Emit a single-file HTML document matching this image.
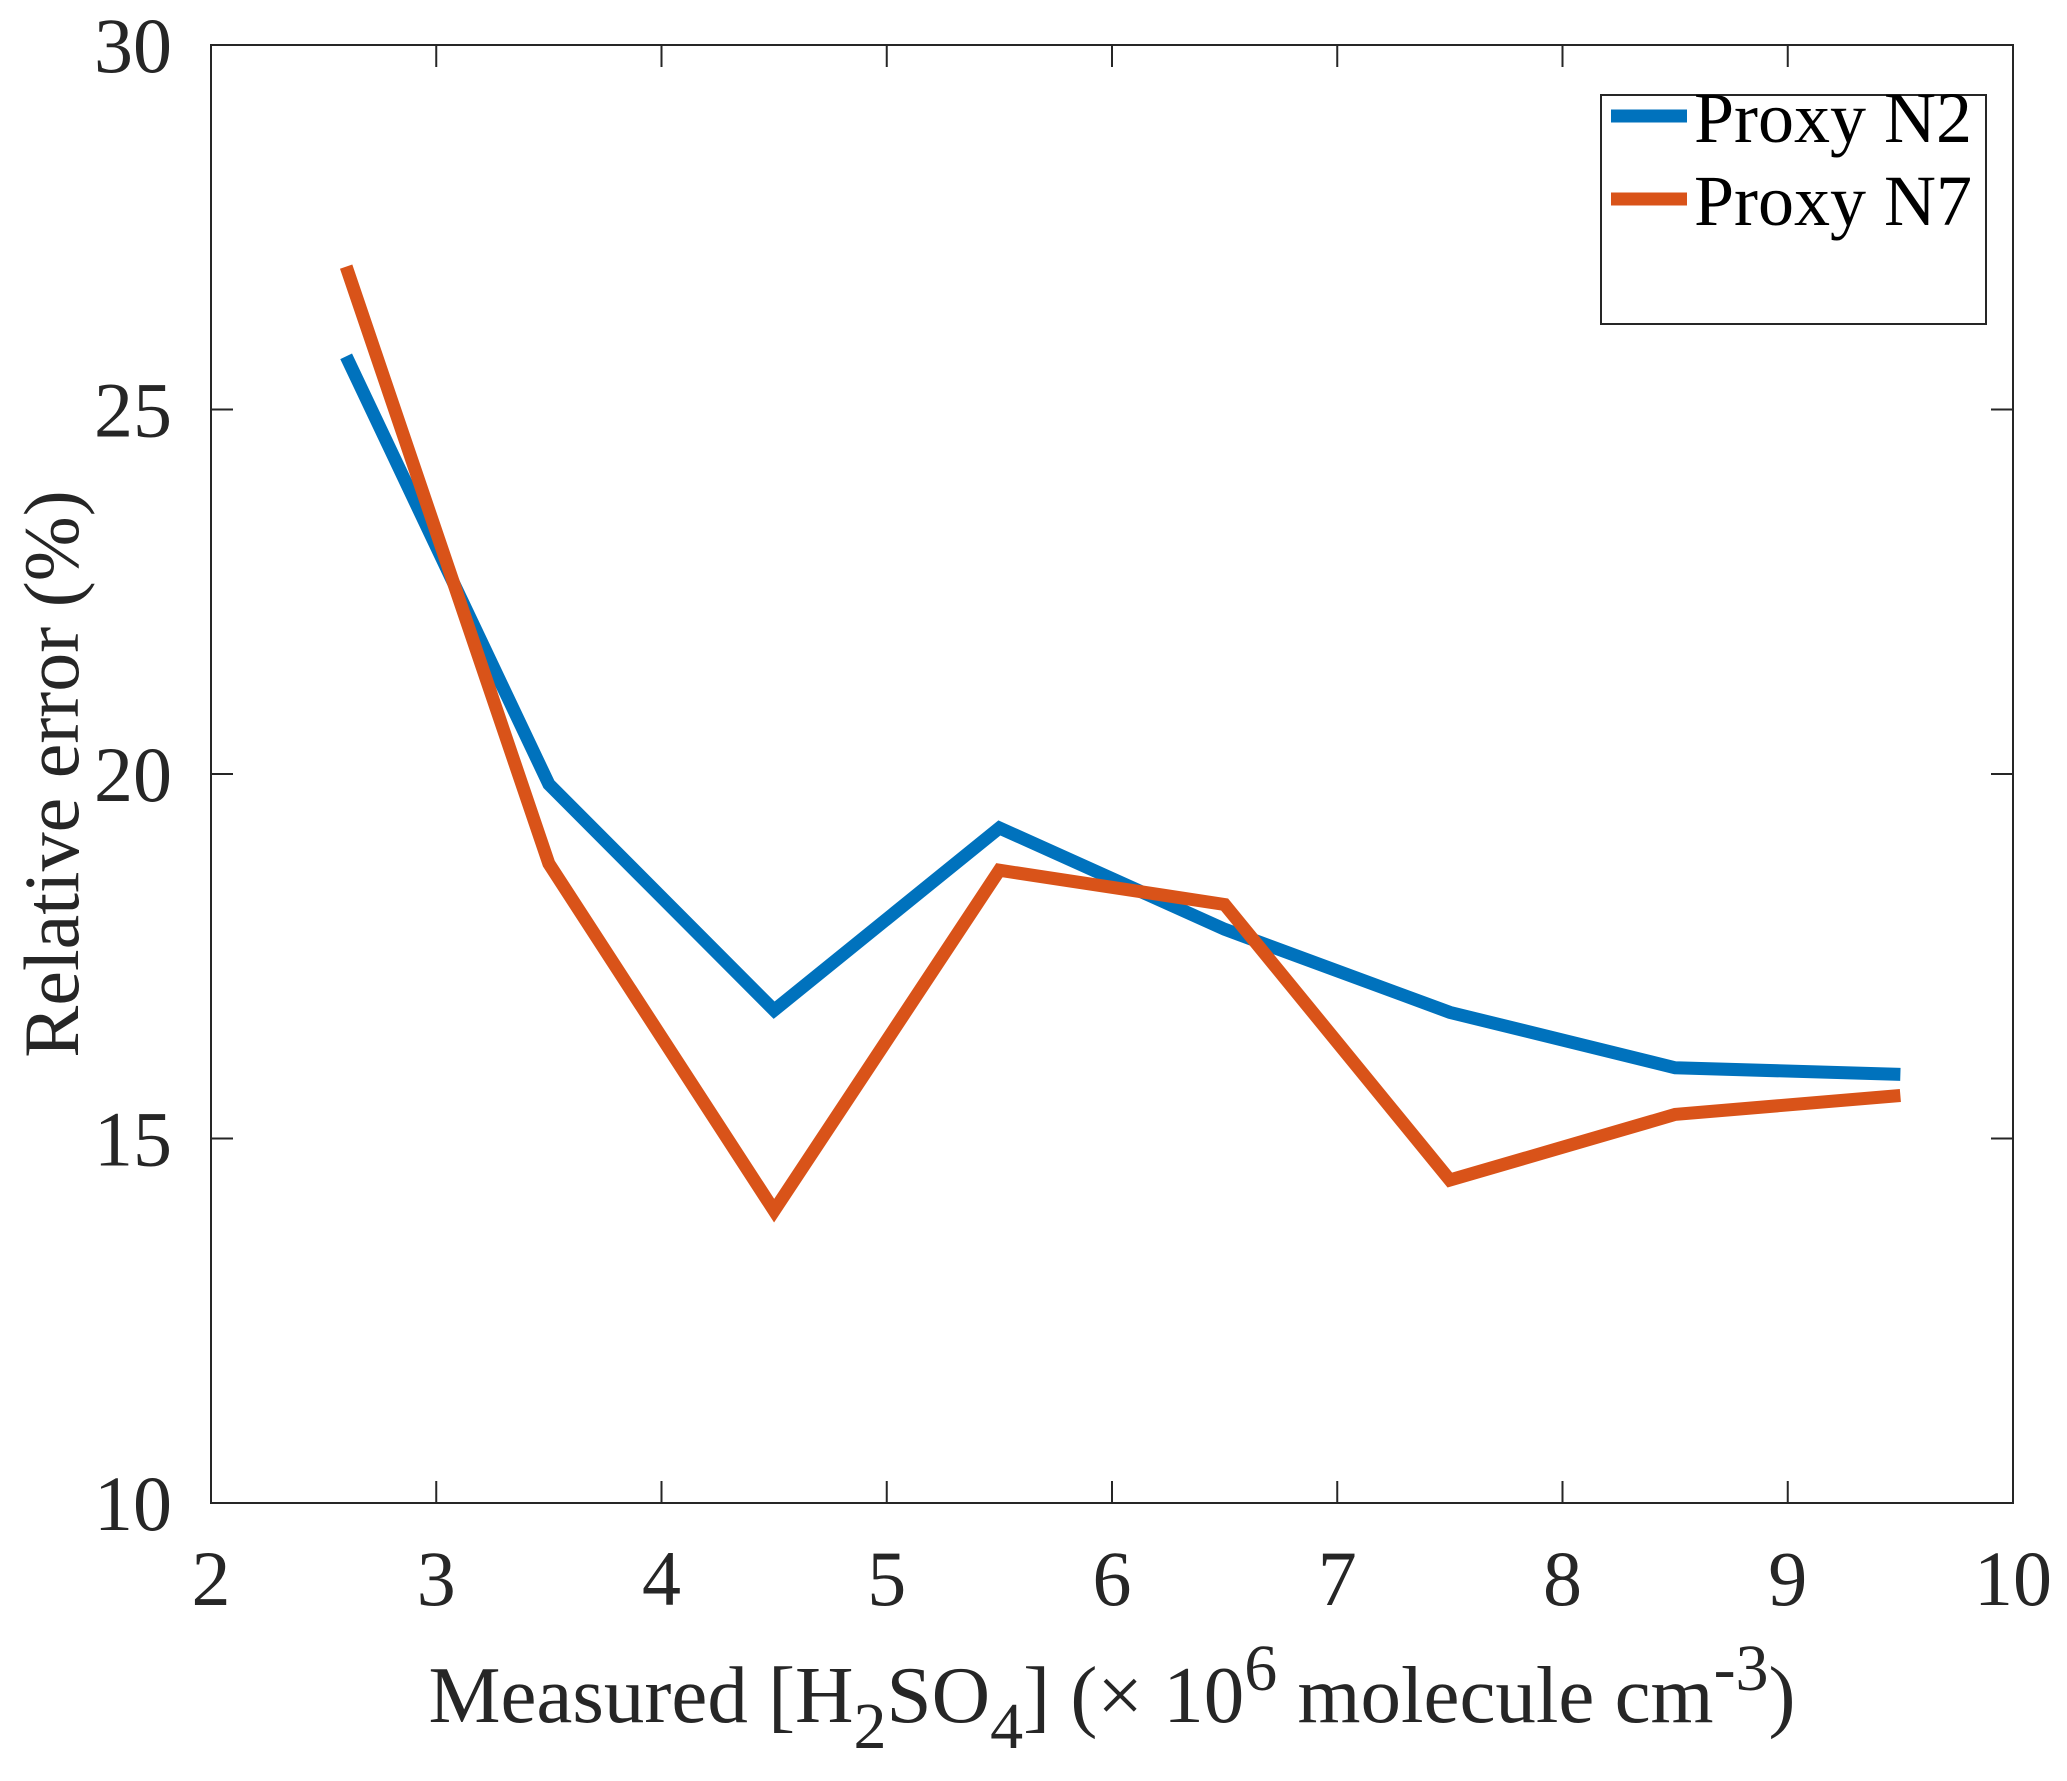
<!DOCTYPE html>
<html><head><meta charset="utf-8"><style>
body{margin:0;background:#fff}
svg{display:block;font-family:"Liberation Serif",serif}
</style></head><body>
<svg id="chart" width="2067" height="1781">
<g id="g"></g>
</svg>
<script>
const categories=[2.6,3.5,4.5,5.5,6.5,7.5,8.5,9.5];
const seriesN2=[25.73,19.86,16.76,19.26,17.87,16.73,15.97,15.88];
const seriesN7=[26.96,18.77,14.01,18.68,18.21,14.43,15.33,15.59];
const xTicks=[2,3,4,5,6,7,8,9,10];
const yTicks=[10,15,20,25,30];
const L=211,R=2013,T=45,B=1503;
const X=v=>L+(v-2)/8*(R-L);
const Y=v=>B-(v-10)/20*(B-T);
const g=document.getElementById('g');
const NS='http://www.w3.org/2000/svg';
function el(t,a,p){const e=document.createElementNS(NS,t);for(const k in a)e.setAttribute(k,a[k]);(p||g).appendChild(e);return e;}
let e=el('rect',{x:L,y:T,width:R-L,height:B-T,fill:'none',stroke:'#262626','stroke-width':2});


xTicks.forEach(v=>{
 el('line',{x1:X(v),x2:X(v),y1:B,y2:B-22,stroke:'#262626','stroke-width':2});
 el('line',{x1:X(v),x2:X(v),y1:T,y2:T+22,stroke:'#262626','stroke-width':2});
 const t=el('text',{x:X(v),y:1605,'text-anchor':'middle','font-size':78,fill:'#262626'});t.textContent=v;
 
 
});
yTicks.forEach(v=>{
 el('line',{x1:L,x2:L+22,y1:Y(v),y2:Y(v),stroke:'#262626','stroke-width':2});
 el('line',{x1:R,x2:R-22,y1:Y(v),y2:Y(v),stroke:'#262626','stroke-width':2});
 const t=el('text',{x:172,y:Y(v)+27,'text-anchor':'end','font-size':78,fill:'#262626'});t.textContent=v;
 
 
});
function line(vals,color,name){
 const p=el('polyline',{points:categories.map((c,i)=>X(c)+','+Y(vals[i])).join(' '),fill:'none',stroke:color,'stroke-width':13,'stroke-linejoin':'miter'});
 
 
}
line(seriesN2,'#0072BD','series-proxy-n2');
line(seriesN7,'#D95319','series-proxy-n7');
</script>
<svg width="2067" height="1781" style="position:absolute;left:0;top:0;font-family:'Liberation Serif',serif">
<g>
<rect x="1601" y="95" width="385" height="229" fill="#fff" stroke="#262626" stroke-width="2"/>
<line x1="1611" x2="1687" y1="116" y2="116" stroke="#0072BD" stroke-width="13"/>
<text x="1694" y="142" font-size="72" fill="#000">Proxy N2</text>
<line x1="1611" x2="1687" y1="199" y2="199" stroke="#D95319" stroke-width="13"/>
<text x="1694" y="225" font-size="72" fill="#000">Proxy N7</text>
</g>
<text x="1112" y="1722" text-anchor="middle" font-size="81" fill="#262626">Measured [H<tspan font-size="66" dy="26">2</tspan><tspan dy="-26">SO</tspan><tspan font-size="66" dy="26">4</tspan><tspan dy="-26">] (× 10</tspan><tspan font-size="66" dy="-32">6</tspan><tspan dy="32"> molecule cm</tspan><tspan font-size="66" dy="-32">-3</tspan><tspan dy="32">)</tspan></text>
<text transform="translate(78,774) rotate(-90)" text-anchor="middle" font-size="78" fill="#262626">Relative error (%)</text>
</svg>
</body></html>
